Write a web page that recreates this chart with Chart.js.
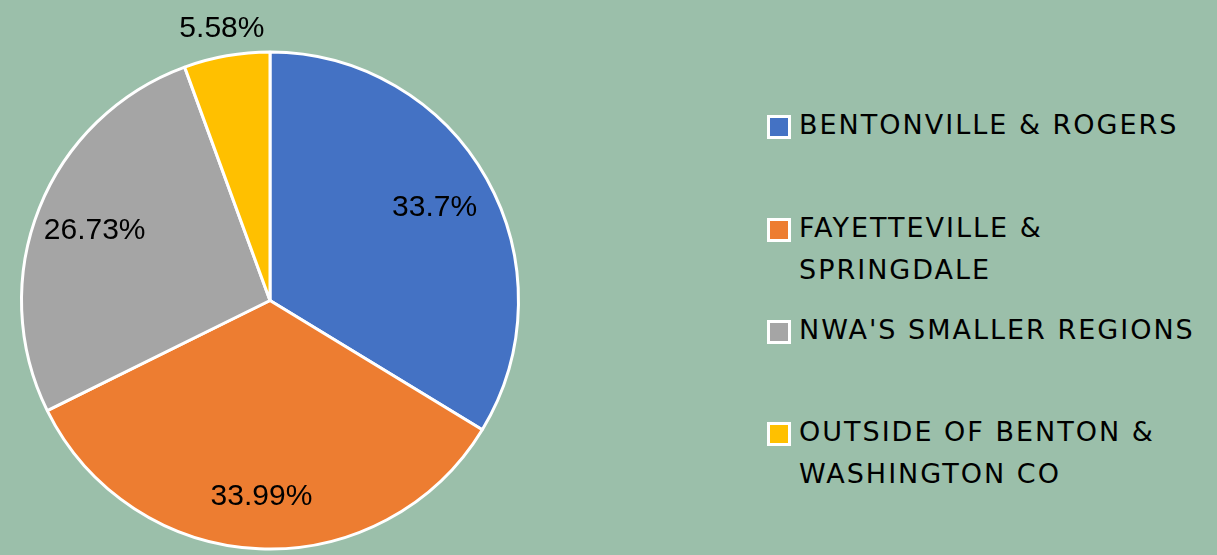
<!DOCTYPE html>
<html>
<head>
<meta charset="utf-8">
<script src="https://cdn.jsdelivr.net/npm/chart.js@4/dist/chart.umd.min.js"></script>
<style>
  html, body { margin: 0; padding: 0; background: #9bbfaa; }
  #wrap { position: relative; width: 1217px; height: 555px; }
  #pieBox { position: absolute; left: 0; top: 0; width: 540px; height: 555px; }
  #legend { position: absolute; left: 767px; top: 0; font-family: "DejaVu Sans", sans-serif; font-size: 27px; letter-spacing: 2px; color: #000; }
  .item { position: absolute; left: 0; white-space: nowrap; }
  .box { position: absolute; left: 0; width: 18px; height: 18px; border: 3px solid #fff; }
  .txt { position: absolute; left: 32px; line-height: 42px; }
</style>
</head>
<body>
<div id="wrap">
  <div id="pieBox"><canvas id="regionChart"></canvas></div>
  <div id="legend"></div>
</div>
<script>
// regions, wrapped the way the legend shows them
const regions = [
    "BENTONVILLE & ROGERS",
    ["FAYETTEVILLE &", "SPRINGDALE"],
    "NWA'S SMALLER REGIONS",
    ["OUTSIDE OF BENTON &", "WASHINGTON CO"]
];
const shares = [33.7, 33.99, 26.73, 5.58];
const shareLabels = ["33.7%", "33.99%", "26.73%", "5.58%"];
const sliceColors = ["#4472c4", "#ed7d31", "#a5a5a5", "#ffc000"];

// legend rows (top of each text block)
const legendTops = [104, 207, 309, 411];

function buildLegend() {
    const legendElem = document.getElementById("legend");
    regions.forEach((r, i) => {
        const lines = Array.isArray(r) ? r : [r];
        const item = document.createElement("div");
        item.className = "item";
        item.style.top = legendTops[i] + "px";
        const box = document.createElement("div");
        box.className = "box";
        box.style.top = "11px";
        box.style.background = sliceColors[i];
        const txt = document.createElement("div");
        txt.className = "txt";
        txt.innerHTML = lines.join("<br>");
        item.appendChild(box);
        item.appendChild(txt);
        legendElem.appendChild(item);
    });
}

// draws the percent labels, at a fraction of the radius
const sliceLabels = {
    id: "sliceLabels",
    afterDatasetsDraw(chart, args, opts) {
        const ctx = chart.ctx;
        const arcs = chart.getDatasetMeta(0).data;
        ctx.save();
        ctx.font = opts.font;
        ctx.fillStyle = "#000";
        ctx.textAlign = "center";
        ctx.textBaseline = "middle";
        arcs.forEach((arc, i) => {
            const p = arc.getProps(["x", "y", "startAngle", "endAngle", "outerRadius"], true);
            const mid = (p.startAngle + p.endAngle) / 2;
            const r = p.outerRadius * opts.radius[i];
            ctx.fillText(shareLabels[i], p.x + Math.cos(mid) * r, p.y + Math.sin(mid) * r);
        });
        ctx.restore();
    }
};

buildLegend();

const ctx = document.getElementById("regionChart").getContext("2d");
const regionChart = new Chart(ctx, {
    type: "pie",
    data: {
        labels: regions,
        datasets: [{
            data: shares,
            backgroundColor: sliceColors,
            borderColor: "#ffffff",
            borderWidth: 3
        }]
    },
    options: {
        responsive: true,
        maintainAspectRatio: false,
        animation: false,
        layout: { padding: { top: 50, bottom: 4, left: 20, right: 20 } },
        plugins: {
            legend: { display: false },
            tooltip: { enabled: false },
            sliceLabels: {
                font: "30px 'Liberation Sans', Arial, sans-serif",
                radius: [0.76, 0.79, 0.76, 1.11]
            }
        }
    },
    plugins: [sliceLabels]
});
</script>
</body>
</html>
